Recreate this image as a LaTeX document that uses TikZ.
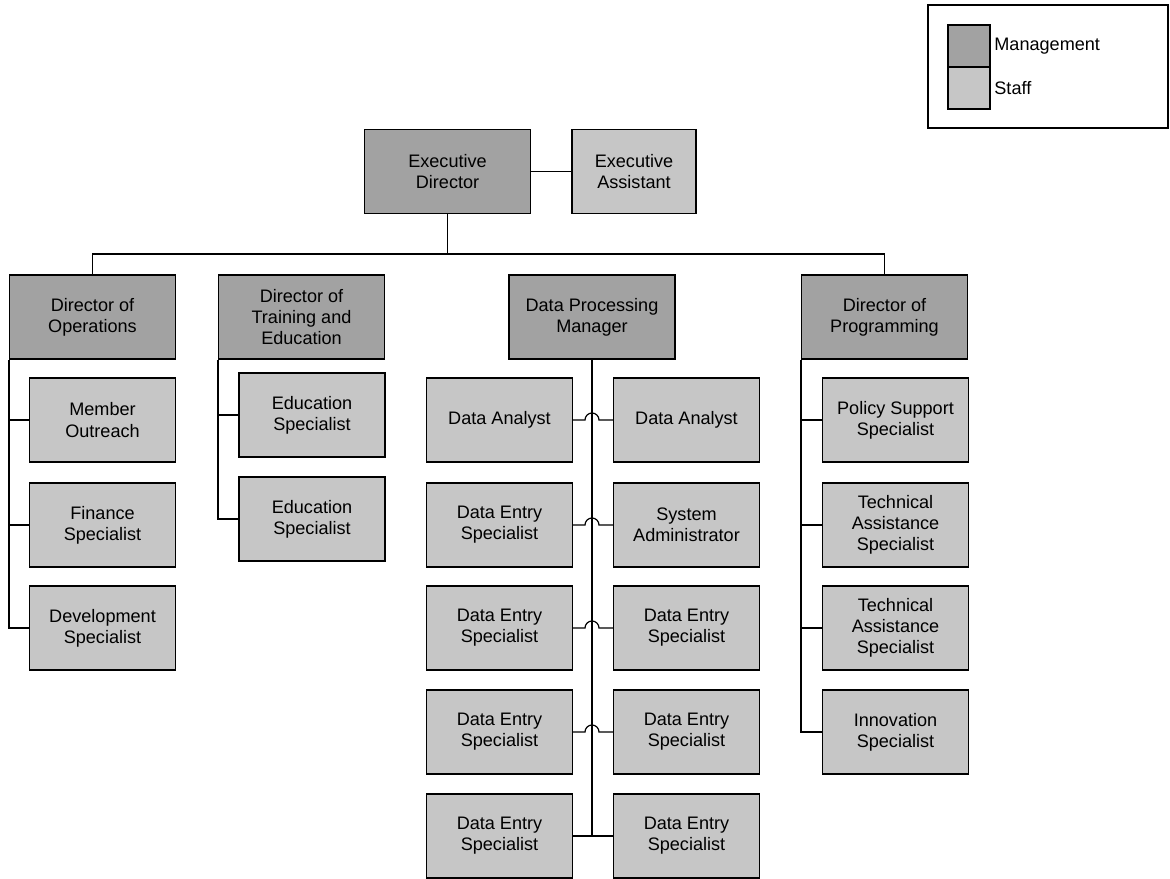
\documentclass[tikz,border=0pt]{standalone}
\usepackage{fontspec}
\setmainfont{Liberation Sans}
\usetikzlibrary{calc}
\definecolor{mgmtgray}{RGB}{162,162,162}
\definecolor{staffgray}{RGB}{198,198,198}
\begin{document}
\begin{tikzpicture}[
        x=0.02cm, y=-0.02cm,
        box/.style={rectangle, draw, line width=0.6pt, align=center, inner sep=1pt,
            minimum height=1.68cm, font=\fontsize{10.3}{12}\selectfont},
        mgmt/.style={box, fill=mgmtgray, minimum width=3.32cm},
        staff/.style={box, fill=staffgray, minimum width=2.92cm},
        link/.style={line width=0.7pt},
    ]
        \useasboundingbox (0,0) rectangle (1170,879);

        % legend
        \draw[line width=0.6pt] (928,5) rectangle (1168,128);
        \node[draw, line width=0.6pt, fill=mgmtgray, minimum width=0.84cm, minimum height=0.84cm, inner sep=0pt] (keym) at (969,46) {};
        \node[draw, line width=0.6pt, fill=staffgray, minimum width=0.84cm, minimum height=0.84cm, inner sep=0pt] (keys) at (969,88) {};
        \node[anchor=west, inner sep=2pt, font=\fontsize{10.3}{12}\selectfont] (keymtext) at (keym.east) {Management};
        \node[anchor=west, inner sep=2pt, font=\fontsize{10.3}{12}\selectfont] (keystext) at (keys.east) {Staff};

        % top
        \node[mgmt] (exec) at (447.5,171.5) {Executive\\Director};
        \node[staff, minimum width=2.48cm] (asst) at (634,171.5) {Executive\\Assistant};

        % directors
        \node[mgmt] (ops) at (92.5,317) {Director of\\Operations};
        \node[mgmt] (train) at (301.5,317) {Director of\\Training and\\Education};
        \node[mgmt] (dpm) at (592,317) {Data Processing\\Manager};
        \node[mgmt] (prog) at (884.5,317) {Director of\\Programming};

        % operations
        \node[staff] (member) at (102.5,420) {Member\\Outreach};
        \node[staff] (finance) at (102.5,525) {Finance\\Specialist};
        \node[staff] (devel) at (102.5,628) {Development\\Specialist};

        % training and education
        \node[staff] (edu1) at (312,415) {Education\\Specialist};
        \node[staff] (edu2) at (312,519) {Education\\Specialist};

        % data processing
        \node[staff] (da1) at (499.5,420) {Data Analyst};
        \node[staff] (da2) at (686.5,420) {Data Analyst};
        \node[staff] (de1) at (499.5,525) {Data Entry\\Specialist};
        \node[staff] (sysadm) at (686.5,525) {System\\Administrator};
        \node[staff] (de2) at (499.5,628) {Data Entry\\Specialist};
        \node[staff] (de3) at (686.5,628) {Data Entry\\Specialist};
        \node[staff] (de4) at (499.5,732) {Data Entry\\Specialist};
        \node[staff] (de5) at (686.5,732) {Data Entry\\Specialist};
        \node[staff] (de6) at (499.5,836) {Data Entry\\Specialist};
        \node[staff] (de7) at (686.5,836) {Data Entry\\Specialist};

        % programming
        \node[staff] (policy) at (895.5,420) {Policy Support\\Specialist};
        \node[staff] (ta1) at (895.5,525) {Technical\\Assistance\\Specialist};
        \node[staff] (ta2) at (895.5,628) {Technical\\Assistance\\Specialist};
        \node[staff] (innov) at (895.5,732) {Innovation\\Specialist};

        % connectors
        \coordinate (bus) at (447.5,254);
        \draw[link] (exec.east) -- (asst.west);
        \draw[link] (exec.south) -- (bus);
        \draw[link] (ops.north) |- (bus) -| (prog.north);

        \draw[link] (ops.south west) |- (devel.west);
        \draw[link] (ops.south west |- member.west) -- (member.west);
        \draw[link] (ops.south west |- finance.west) -- (finance.west);

        \draw[link] (train.south west) |- (edu2.west);
        \draw[link] (train.south west |- edu1.west) -- (edu1.west);

        \draw[link] (prog.south west) |- (innov.west);
        \draw[link] (prog.south west |- policy.west) -- (policy.west);
        \draw[link] (prog.south west |- ta1.west) -- (ta1.west);
        \draw[link] (prog.south west |- ta2.west) -- (ta2.west);

        \draw[link] (dpm.south) -- (dpm.south |- de6.east);
        \foreach \l/\r in {da1/da2, de1/sysadm, de2/de3, de4/de5}
            \draw[link] (\l.east) -- ($(dpm.south |- \l.east)+(-7,0)$)
                arc[start angle=180, end angle=0, radius=0.14cm] -- (\r.west);
        \draw[link] (de6.east) -- (de7.west);
    \end{tikzpicture}
\end{document}
